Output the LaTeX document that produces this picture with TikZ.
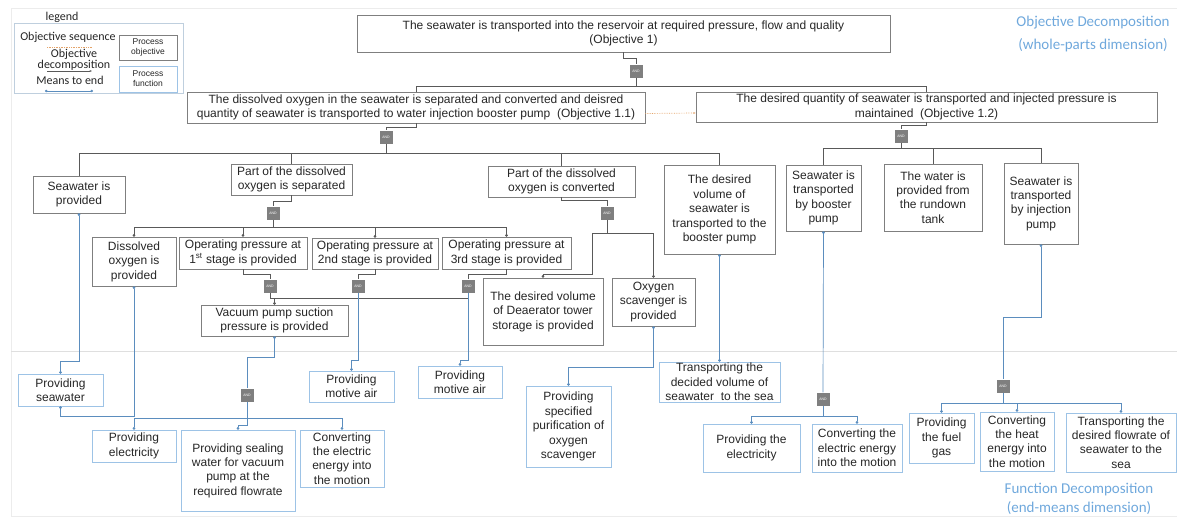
\documentclass[tikz,border=0pt]{standalone}
\usepackage{fontspec}
\setmainfont{Liberation Sans}
\newfontfamily\legendfont{Carlito}
\usetikzlibrary{arrows.meta}
\definecolor{boxgray}{HTML}{7F7F7F}
\definecolor{linegray}{HTML}{595959}
\definecolor{funblue}{HTML}{9DC3E6}
\definecolor{meanblue}{HTML}{5B8DBE}
\definecolor{labelblue}{HTML}{6FA8DC}
\definecolor{seqorange}{HTML}{E4A46A}
\definecolor{txt}{HTML}{262626}

\begin{document}
\begin{tikzpicture}[x=1pt,y=-1pt,
  every node/.style={text=txt, font=\fontsize{12}{14.4}\selectfont, align=center, inner sep=0pt},
  objbox/.style={draw=boxgray, line width=0.6pt},
  funbox/.style={draw=funblue, line width=0.7pt},
  gate/.style={fill=boxgray, minimum size=13pt, text=white, font=\fontsize{3.5}{4}\selectfont},
  gline/.style={draw=linegray, line width=0.8pt},
  mline/.style={draw=meanblue, line width=0.7pt},
  enddot/.style={-{Circle[length=2.6pt]}},
  bothdots/.style={{Circle[length=2.6pt]}-{Circle[length=2.6pt]}}]

  \useasboundingbox (0,0) rectangle (1177,517);
  \draw[gray!15] (11,8) rectangle (1177,516);
  \draw[gray!25] (11,351) -- (1177,351);

  % legend
  \node[font=\legendfont\fontsize{12}{13}\selectfont] (lgd) at (62,17) {legend};
  \draw[funblue!70!gray!60] (14,23) rectangle (183,93);
  \node[font=\legendfont\fontsize{12}{13}\selectfont] (lseq) at (68,37) {Objective sequence};
  \node[font=\legendfont\fontsize{12}{11.5}\selectfont] (ldec) at (74,60) {Objective\\decomposition};
  \node[font=\legendfont\fontsize{12}{13}\selectfont] (lmean) at (70,80) {Means to end};
  \coordinate (lseqa) at (47,47);
  \coordinate (lseqb) at (92,47);
  \coordinate (ldeca) at (47,71);
  \coordinate (ldecb) at (92,71);
  \coordinate (lmeana) at (45,91);
  \coordinate (lmeanb) at (93,91);
  \draw[seqorange, densely dotted, line width=0.7pt] (lseqa) -- (lseqb);
  \draw[gline, -{Stealth[length=2.5pt]}] (ldeca) -- (ldecb);
  \draw[mline, bothdots] (lmeana) -- (lmeanb);
  \node[objbox, minimum width=58pt, minimum height=25pt, font=\fontsize{8.5}{10}\selectfont] (lobj) at (148,47.5) {Process\\objective};
  \node[funbox, minimum width=58pt, minimum height=26pt, font=\fontsize{8.5}{10}\selectfont] (lfun) at (148,79) {Process\\function};

  % dimension labels
  \node[text=labelblue, font=\legendfont\fontsize{15}{23}\selectfont] (odim) at (1093,33.5) {Objective Decomposition\\(whole-parts dimension)};
  \node[text=labelblue, font=\legendfont\fontsize{15}{19}\selectfont] (fdim) at (1079,498.5) {Function Decomposition\\(end-means dimension)};

  % objective 1
  \node[objbox, minimum width=533pt, minimum height=37pt] (obj1) at (623.5,33.5) {The seawater is transported into the reservoir at required pressure, flow and quality\\(Objective 1)};
  \node[gate] (g1) at (636,71) {AND};
  \node[objbox, minimum width=458pt, minimum height=31pt] (objA) at (416,107.5) {The dissolved oxygen in the seawater is separated and converted and deisred\\quantity of seawater is transported to water injection booster pump~ (Objective 1.1)};
  \node[objbox, minimum width=461pt, minimum height=30pt] (objB) at (926.5,107) {The desired quantity of seawater is transported and injected pressure is\\maintained~ (Objective 1.2)};
  \draw[gline] (obj1.south) -- ++(0,6) -| (g1.north);
  \draw[gline] (g1.south) -- ++(0,9) coordinate (bus1) -| (objA.north);
  \draw[gline] (bus1) -| (objB.north);
  \draw[seqorange, densely dotted, line width=0.7pt, -{Stealth[length=2.5pt]}] ([yshift=-6pt]objA.east) -- ([yshift=-6pt]objB.west);

  % objective 1.1
  \node[gate] (gA) at (386,137) {AND};
  \node[objbox, minimum width=92pt, minimum height=37pt] (swprov) at (79,194.5) {Seawater is\\provided};
  \node[objbox, minimum width=121pt, minimum height=31pt] (sep) at (291.5,179.5) {Part of the dissolved\\oxygen is separated};
  \node[objbox, minimum width=147pt, minimum height=31pt] (conv) at (561.5,181.5) {Part of the dissolved\\oxygen is converted};
  \node[objbox, minimum width=111pt, minimum height=89pt] (volbp) at (719.5,209.5) {The desired\\volume of\\seawater is\\transported to the\\booster pump};
  \draw[gline] (objA.south) -- ++(0,4) -| (gA.north);
  \draw[gline] (gA.south) -- ++(0,9.5) coordinate (busA);
  \draw[gline] (swprov.north) |- (busA) -| (volbp.north);
  \draw[gline] (sep.north) -- (sep.north |- busA);
  \draw[gline] (conv.north) -- (conv.north |- busA);

  % separated
  \node[gate] (gsep) at (273,213) {AND};
  \node[objbox, minimum width=84pt, minimum height=49pt] (dox) at (134,261.5) {Dissolved\\oxygen is\\provided};
  \node[objbox, minimum width=128pt, minimum height=32pt] (st1) at (243,253) {Operating pressure at\\1\textsuperscript{st} stage is provided};
  \node[objbox, minimum width=126pt, minimum height=31pt] (st2) at (375,253.5) {Operating pressure at\\2nd stage is provided};
  \node[objbox, minimum width=129pt, minimum height=32pt] (st3) at (506.5,253) {Operating pressure at\\3rd stage is provided};
  \draw[gline] (sep.south) -- ++(0,6) -| (gsep.north);
  \draw[gline] (gsep.south) -- ++(0,8) coordinate (busS);
  \draw[gline, enddot] (busS) -| (dox.north);
  \draw[gline, enddot] (busS) -| (st3.north);
  \draw[gline, enddot] (busS -| st1.north) -- (st1.north);
  \draw[gline, enddot] (busS -| st2.north) -- (st2.north);

  % stages
  \node[gate] (g1st) at (270,286) {AND};
  \node[gate] (g2nd) at (358,286) {AND};
  \node[gate] (g3rd) at (468,286) {AND};
  \node[objbox, minimum width=147pt, minimum height=31pt] (vac) at (274.5,320.5) {Vacuum pump suction\\pressure is provided};
  \draw[gline] (st1.south) -- ++(0,5) -| (g1st.north);
  \draw[gline] (st2.south) -- ++(0,5) -| (g2nd.north);
  \draw[gline] (st3.south) -- ++(0,5) -| (g3rd.north);
  \draw[gline] (g1st.south) -- ++(0,5.5) coordinate (busV) -| (g3rd.south);
  \draw[gline, enddot] (busV -| vac.north) -- (vac.north);

  % converted
  \node[gate] (gconv) at (607,213) {AND};
  \node[objbox, minimum width=120pt, minimum height=67pt] (dea) at (543,311.5) {The desired volume\\of Deaerator tower\\storage is provided};
  \node[objbox, minimum width=83pt, minimum height=48pt] (scav) at (653.5,302) {Oxygen\\scavenger is\\provided};
  \draw[gline] (conv.south) -- ++(0,3) -| (gconv.north);
  \draw[gline] (gconv.south) -- ++(0,13.5) coordinate (busC);
  \draw[gline, enddot] (busC) -- ++(-15,0) -- ++(0,41) -| (dea.north);
  \draw[gline, enddot] (busC) -| (scav.north);

  % objective 1.2
  \node[gate] (gB) at (901,136) {AND};
  \node[objbox, minimum width=75pt, minimum height=66pt] (bst) at (823.5,198) {Seawater is\\transported\\by booster\\pump};
  \node[objbox, minimum width=98pt, minimum height=67pt] (tank) at (933,197.5) {The water is\\provided from\\the rundown\\tank};
  \node[objbox, minimum width=74pt, minimum height=81pt] (inj) at (1041,203.5) {Seawater is\\transported\\by injection\\pump};
  \draw[gline] (objB.south) -- ++(0,3) -| (gB.north);
  \draw[gline] (gB.south) -- ++(0,5.5) coordinate (busB);
  \draw[gline] (bst.north) |- (busB) -| (inj.north);
  \draw[gline] (tank.north) -- (tank.north |- busB);

  % functions
  \node[funbox, minimum width=85pt, minimum height=32pt] (fsw) at (60.5,390) {Providing\\seawater};
  \node[funbox, minimum width=84pt, minimum height=32pt] (felec) at (134,446) {Providing\\electricity};
  \node[funbox, minimum width=114pt, minimum height=81pt] (fseal) at (238,470.5) {Providing sealing\\water for vacuum\\pump at the\\required flowrate};
  \node[funbox, minimum width=84pt, minimum height=57pt] (fmot1) at (342,458.5) {Converting\\the electric\\energy into\\the motion};
  \node[funbox, minimum width=85pt, minimum height=31pt] (fair1) at (351.5,386.5) {Providing\\motive air};
  \node[funbox, minimum width=84pt, minimum height=32pt] (fair2) at (460,382) {Providing\\motive air};
  \node[funbox, minimum width=85pt, minimum height=81pt] (fpur) at (568.5,426.5) {Providing\\specified\\purification of\\oxygen\\scavenger};
  \node[funbox, minimum width=121pt, minimum height=40pt] (fsea) at (719.5,382) {Transporting the\\decided volume of\\seawater~ to the sea};
  \node[funbox, minimum width=97pt, minimum height=48pt] (felec2) at (751.5,448) {Providing the\\electricity};
  \node[funbox, minimum width=90pt, minimum height=48pt] (fmot2) at (857,448) {Converting the\\electric energy\\into the motion};
  \node[funbox, minimum width=65pt, minimum height=50pt] (ffuel) at (941.5,438) {Providing\\the fuel\\gas};
  \node[funbox, minimum width=74pt, minimum height=59pt] (fheat) at (1017,441.5) {Converting\\the heat\\energy into\\the motion};
  \node[funbox, minimum width=110pt, minimum height=59pt] (fflow) at (1121,442.5) {Transporting the\\desired flowrate of\\seawater to the\\sea};
  \node[gate] (gvac) at (247,395) {AND};
  \node[gate] (gbst) at (823,399) {AND};
  \node[gate] (ginj) at (1003,386) {AND};

  % means to end
  \draw[mline, bothdots] (swprov.south) -- ++(0,148) -| (fsw.north);
  \draw[mline, bothdots] (dox.south) -- ++(0,130) -| (fsw.south);
  \draw[mline, {Circle[length=2.6pt]}-] (vac.south) -- ++(0,21) -| (gvac.north);
  \draw[mline] (gvac.south) -- ++(0,16.5) coordinate (busF);
  \draw[mline, enddot] (busF) -| (felec.north);
  \draw[mline, enddot] (busF) -| (fmot1.north);
  \draw[mline, enddot] (busF) -- ++(0,7) -| (fseal.north);
  \draw[mline, enddot] (g2nd.south) -- ++(0,67.5) -| (fair1.north);
  \draw[mline, enddot] (g3rd.south) -- ++(0,67.5) -| (fair2.north);
  \draw[mline, bothdots] (scav.south) -- ++(0,41) -| (fpur.north);
  \draw[mline, bothdots] (volbp.south) -- (fsea.north);
  \draw[mline, {Circle[length=2.6pt]}-] (bst.south) -- (gbst.north);
  \draw[mline] (gbst.south) -- ++(0,10.5) coordinate (busG);
  \draw[mline, enddot] (busG) -| (felec2.north);
  \draw[mline, enddot] (busG) -| (fmot2.north);
  \draw[mline, {Circle[length=2.6pt]}-] (inj.south) -- ++(0,73) -| (ginj.north);
  \draw[mline] (ginj.south) -- ++(0,10.5) coordinate (busI);
  \draw[mline, enddot] (busI) -| (ffuel.north);
  \draw[mline, enddot] (busI) -| (fheat.north);
  \draw[mline, enddot] (busI) -| (fflow.north);

\end{tikzpicture}
\end{document}
